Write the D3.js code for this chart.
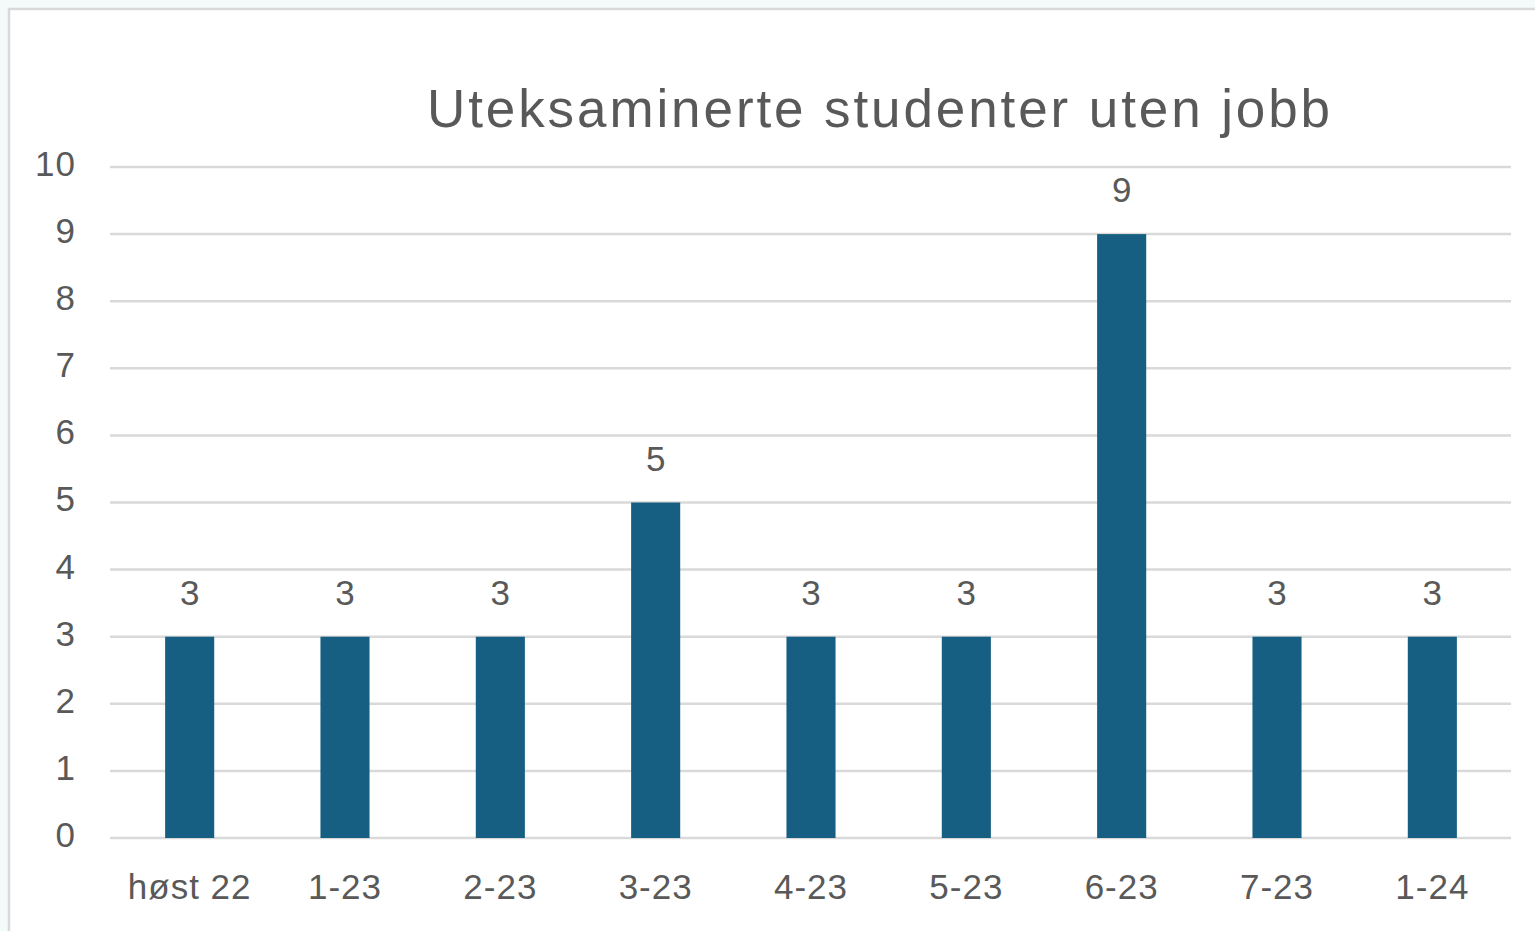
<!DOCTYPE html>
<html>
<head>
<meta charset="utf-8">
<script src="https://cdn.jsdelivr.net/npm/d3@7"></script>
<style>
  html, body { margin: 0; padding: 0; background: #f4f9f9; overflow: hidden; }
</style>
</head>
<body>
<div id="chart"></div>
<script>
// data
var categories = ["høst 22", "1-23", "2-23", "3-23", "4-23", "5-23", "6-23", "7-23", "1-24"];
var values = [3, 3, 3, 5, 3, 3, 9, 3, 3];
var yTicks = [0, 1, 2, 3, 4, 5, 6, 7, 8, 9, 10];
var title = "Uteksaminerte studenter uten jobb";

var width = 1535,
	height = 931;
var font = "'Liberation Sans', Arial, sans-serif";
var textColor = "#595959";

var svg = d3.select("#chart").append("svg")
	.attr("width", width)
	.attr("height", height);

// chart area (cropped at right and bottom)
svg.append("rect")
	.attr("x", 9)
	.attr("y", 9)
	.attr("width", width + 20)
	.attr("height", height + 20)
	.style("fill", "white")
	.style("stroke", "#d9d9d9")
	.style("stroke-width", 2.5);

var x = d3.scaleBand()
	.domain(categories)
	.range([112, 1510])
	.paddingInner(0.684)
	.paddingOuter(0.342);

var y = d3.scaleLinear()
	.domain([0, 10])
	.range([838, 167]);

// grid lines
svg.append("g")
	.selectAll("line")
	.data(yTicks)
	.enter().append("line")
	.attr("x1", 110)
	.attr("x2", 1511)
	.attr("y1", function(d) { return y(d); })
	.attr("y2", function(d) { return y(d); })
	.style("stroke", "#d9d9d9")
	.style("stroke-width", 2.5);

// y axis labels
var yAxis = svg.append("g")
	.attr("transform", "translate(76,0)")
	.call(d3.axisLeft(y).tickValues(yTicks).tickSize(0).tickPadding(0));
yAxis.select(".domain").remove();
yAxis.selectAll("text")
	.style("font-family", font)
	.style("font-size", "35px")
	.style("letter-spacing", "1px")
	.style("fill", textColor)
	.attr("dy", "0.24em");

// bars
svg.append("g")
	.selectAll("rect")
	.data(values)
	.enter().append("rect")
	.attr("x", function(d, i) { return x(categories[i]); })
	.attr("y", function(d) { return y(d); })
	.attr("width", x.bandwidth())
	.attr("height", function(d) { return y(0) - y(d); })
	.style("fill", "#165f82");

// data labels
svg.append("g")
	.selectAll("text")
	.data(values)
	.enter().append("text")
	.attr("x", function(d, i) { return x(categories[i]) + x.bandwidth() / 2; })
	.attr("y", function(d) { return y(d) - 32; })
	.attr("text-anchor", "middle")
	.style("font-family", font)
	.style("font-size", "35px")
	.style("fill", textColor)
	.text(function(d) { return d; });

// x axis labels
var xAxis = svg.append("g")
	.attr("transform", "translate(0," + y(0) + ")")
	.call(d3.axisBottom(x).tickSize(0).tickPadding(0));
xAxis.select(".domain").remove();
xAxis.selectAll("text")
	.attr("y", 61)
	.attr("dy", 0)
	.style("font-family", font)
	.style("font-size", "35px")
	.style("letter-spacing", "1px")
	.style("fill", textColor);

// title
svg.append("text")
	.attr("x", 880)
	.attr("y", 127)
	.attr("text-anchor", "middle")
	.style("font-family", font)
	.style("font-size", "53px")
	.style("letter-spacing", "2.9px")
	.style("fill", textColor)
	.text(title);
</script>
</body>
</html>
